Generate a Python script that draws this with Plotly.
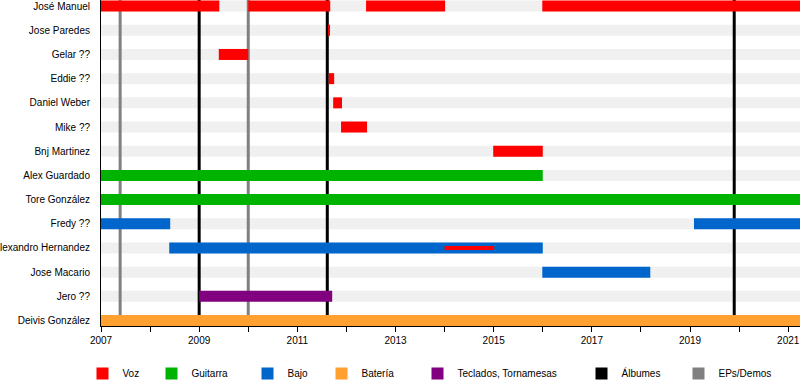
import plotly.graph_objects as go

# ---------------- data ----------------
members = ["José Manuel", "Jose Paredes", "Gelar ??", "Eddie ??", "Daniel Weber",
           "Mike ??", "Bnj Martinez", "Alex Guardado", "Tore González", "Fredy ??",
           "Alexandro Hernandez", "Jose Macario", "Jero ??", "Deivis González"]

start_year = 2007.0
end_year = 2021.24

voz_member = ["José Manuel", "José Manuel", "José Manuel", "José Manuel",
              "Jose Paredes", "Gelar ??", "Eddie ??", "Daniel Weber", "Mike ??", "Bnj Martinez"]
voz_start = [2007.0, 2010.0, 2012.40, 2015.99, 2011.63, 2009.40, 2011.64, 2011.73, 2011.89, 2014.99]
voz_end = [2009.41, 2011.67, 2014.01, 2021.24, 2011.66, 2010.0, 2011.75, 2011.91, 2012.42, 2016.0]

guitarra_member = ["Alex Guardado", "Tore González"]
guitarra_start = [2007.0, 2007.0]
guitarra_end = [2016.0, 2021.24]

bajo_member = ["Fredy ??", "Fredy ??", "Alexandro Hernandez", "Jose Macario"]
bajo_start = [2007.0, 2019.08, 2008.39, 2015.99]
bajo_end = [2008.41, 2021.24, 2016.0, 2018.19]

bateria_member = ["Deivis González"]
bateria_start = [2007.0]
bateria_end = [2021.24]

teclados_member = ["Jero ??"]
teclados_start = [2009.0]
teclados_end = [2011.71]

voz2_member = ["Alexandro Hernandez"]
voz2_start = [2014.0]
voz2_end = [2015.01]

album_years = [2009.0, 2011.61, 2019.90]
ep_years = [2007.39, 2010.0]

major_ticks = [2007, 2009, 2011, 2013, 2015, 2017, 2019, 2021]

# ---------------- styling ----------------
FONT = "Liberation Sans, Arial, sans-serif"
colors = {
    "Voz": "#ff0000",
    "Guitarra": "#00b300",
    "Bajo": "#0066cc",
    "Batería": "#ffa030",
    "Teclados, Tornamesas": "#800080",
    "Álbumes": "#000000",
    "EPs/Demos": "#808080",
}
BAR_W = 0.455
THIN_W = 0.17
YTOP = -0.252
YBOT = len(members) - 1 + 0.227

fig = go.Figure()

def add_role(name, mem, s, e, legend, width=BAR_W, showlegend=True):
    fig.add_trace(go.Bar(
        y=mem, x=[b - a for a, b in zip(s, e)], base=s,
        orientation="h", width=width, name=name,
        marker=dict(color=colors[name], line=dict(width=0)),
        showlegend=showlegend, legend=legend, hoverinfo="skip",
    ))

add_role("Voz", voz_member, voz_start, voz_end, "legend")
add_role("Guitarra", guitarra_member, guitarra_start, guitarra_end, "legend2")
add_role("Bajo", bajo_member, bajo_start, bajo_end, "legend3")
add_role("Batería", bateria_member, bateria_start, bateria_end, "legend4")
add_role("Teclados, Tornamesas", teclados_member, teclados_start, teclados_end, "legend5")
add_role("Voz", voz2_member, voz2_start, voz2_end, "legend", width=THIN_W, showlegend=False)

# legend-only entries for album / EP lines (zero-length bars)
for name, lg in [("Álbumes", "legend6"), ("EPs/Demos", "legend7")]:
    fig.add_trace(go.Bar(y=[members[0]], x=[0], base=[start_year], orientation="h",
                         width=BAR_W, name=name, legend=lg,
                         marker=dict(color=colors[name], line=dict(width=0)),
                         hoverinfo="skip"))

# background stripes
for i, m in enumerate(members):
    fig.add_shape(type="rect", xref="x", yref="y", x0=start_year, x1=end_year,
                  y0=i - BAR_W / 2, y1=i + BAR_W / 2, fillcolor="#f0f0f0",
                  line=dict(width=0), layer="below")

# album & EP lines
for yr in ep_years:
    fig.add_shape(type="line", xref="x", yref="y", x0=yr, x1=yr, y0=YTOP, y1=YBOT,
                  line=dict(color=colors["EPs/Demos"], width=3), layer="below")
for yr in album_years:
    fig.add_shape(type="line", xref="x", yref="y", x0=yr, x1=yr, y0=YTOP, y1=YBOT,
                  line=dict(color=colors["Álbumes"], width=3), layer="below")

# legends positioned individually
L, PW = 101, 699
PH = 326
sq_left = [98, 167, 263, 337, 433, 597, 694]
legend_names = ["legend", "legend2", "legend3", "legend4", "legend5", "legend6", "legend7"]
leg_layout = {}
for lg, px in zip(legend_names, sq_left):
    leg_layout[lg] = dict(
        x=(px - 15.5 - L) / PW, xanchor="left",
        y=-(373.5 - PH) / PH, yanchor="middle",
        orientation="h", bgcolor="rgba(0,0,0,0)", borderwidth=0,
        font=dict(family=FONT, size=10, color="black"),
        itemclick=False, itemdoubleclick=False,
    )

fig.update_layout(
    width=800, height=385,
    margin=dict(l=L, r=0, t=0, b=385 - PH, autoexpand=False),
    paper_bgcolor="white", plot_bgcolor="white",
    barmode="overlay",
    font=dict(family=FONT, size=10, color="black"),
    xaxis=dict(range=[start_year, end_year], tickvals=major_ticks,
               ticks="outside", ticklen=5, tickcolor="black", tickwidth=1,
               showline=True, linecolor="black", linewidth=1,
               showgrid=False, zeroline=False, automargin=False,
               tickfont=dict(family=FONT, size=10, color="black"),
               minor=dict(dtick=1, tick0=2007, ticks="outside", ticklen=5,
                          tickcolor="black", showgrid=False)),
    yaxis=dict(categoryorder="array", categoryarray=members,
               range=[YBOT, YTOP], showline=True, linecolor="black", linewidth=1,
               showgrid=False, zeroline=False, ticks="", ticklabelstandoff=8,
               automargin=False,
               tickfont=dict(family=FONT, size=10, color="black")),
    **leg_layout,
)

fig.write_html(
    "out.html",
    config={"displayModeBar": False},
    post_script="document.body.style.margin='0';document.body.style.padding='0';"
                "document.body.style.overflow='hidden';",
)
